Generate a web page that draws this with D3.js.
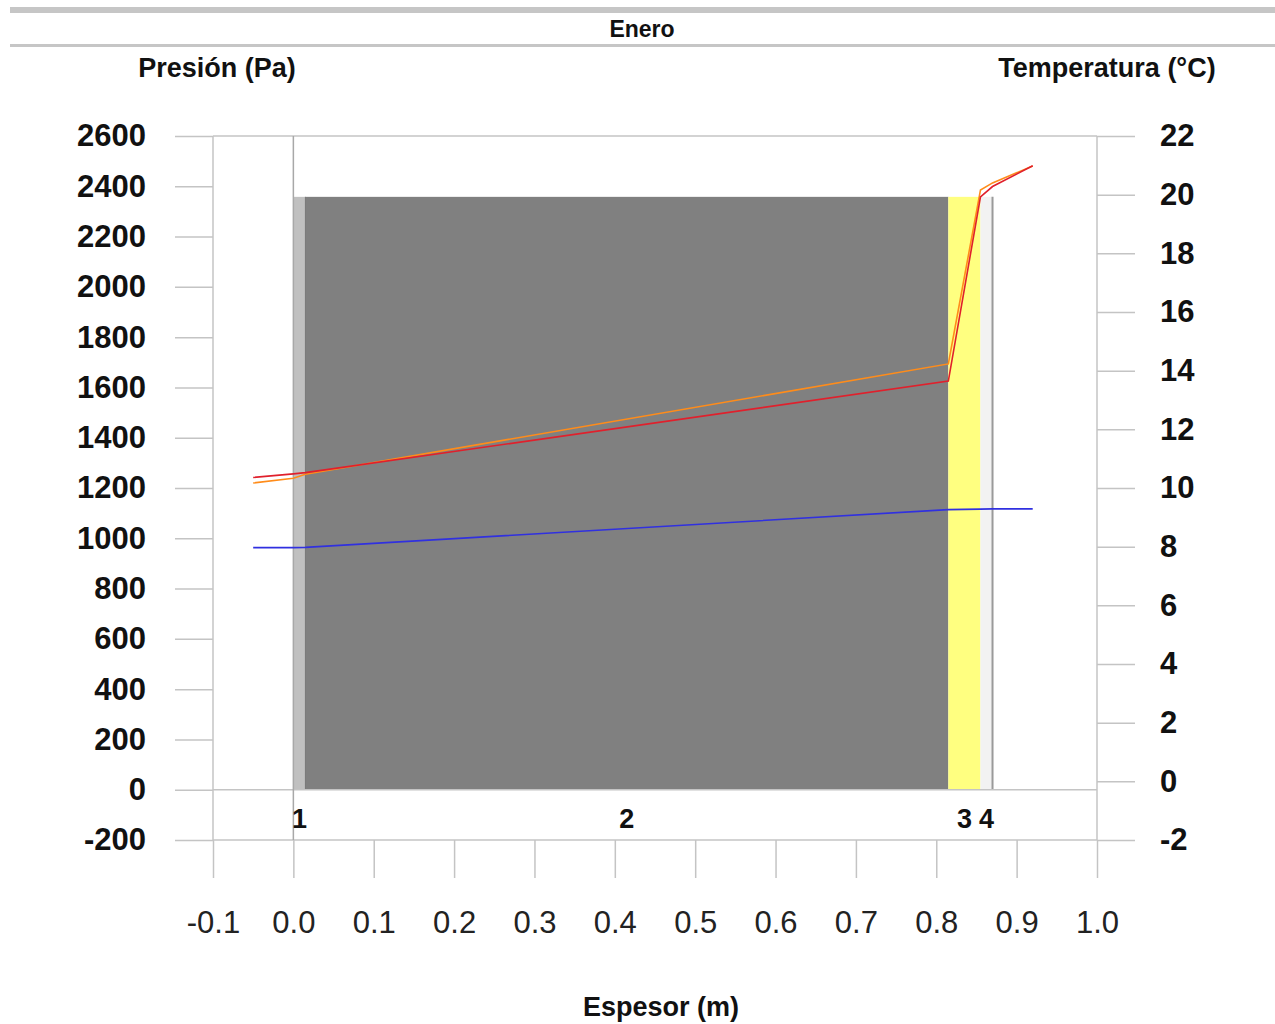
<!DOCTYPE html>
<html>
<head>
<meta charset="utf-8">
<script src="https://cdn.jsdelivr.net/npm/d3@7"></script>
<style>
  html, body { margin: 0; padding: 0; background: #fff; }
  svg { display: block; font-family: "Liberation Sans", Arial, sans-serif; }
</style>
</head>
<body>
<svg id="chart" width="1275" height="1024"></svg>
<script>
// ---------------- data ----------------
const title = "Enero";
const leftAxisTitle = "Presión (Pa)";
const rightAxisTitle = "Temperatura (°C)";
const xAxisTitle = "Espesor (m)";

const pressureTicks = [-200, 0, 200, 400, 600, 800, 1000, 1200, 1400, 1600, 1800, 2000, 2200, 2400, 2600];
const tempTicks = [-2, 0, 2, 4, 6, 8, 10, 12, 14, 16, 18, 20, 22];
const xTicks = [-0.1, 0.0, 0.1, 0.2, 0.3, 0.4, 0.5, 0.6, 0.7, 0.8, 0.9, 1.0];

const layerNames = ["1", "2", "3", "4"];
const layerStart = [0.0, 0.015, 0.815, 0.855];
const layerEnd   = [0.015, 0.815, 0.855, 0.87];
const layerTopPa = 2358;

const positions = [-0.05, 0.0, 0.015, 0.815, 0.855, 0.87, 0.92];
const temperature = [10.17, 10.33, 10.47, 14.23, 20.16, 20.40, 20.98];      // °C (right axis)
const saturationPressure = [1242, 1256, 1261, 1625, 2358, 2399, 2482];     // Pa (left axis)
const vaporPressure = [963, 963, 964, 1114, 1116, 1117, 1117];             // Pa (left axis)

// ---------------- styles ----------------
const layerFill = ["#c0c0c0", "#808080", "#ffff80", "#f2f2f2"];
const gridColor = "#c4c4c4";
const colTemp = "#ff8c1a";
const colSat = "#e0202c";
const colVap = "#3030e0";

// ---------------- layout ----------------
const svg = d3.select("#chart");
const X0 = 213, X1 = 1097, Y0 = 136, Y1 = 840;
const TICK = 38;

const x = d3.scaleLinear().domain([-0.1, 1.0]).range([X0, X1]);
const yP = d3.scaleLinear().domain([-200, 2600]).range([Y1, Y0]);
const yT = d3.scaleLinear().domain([-2, 22]).range([Y1, Y0]);

const hyphen = f => v => f(v).replace("\u2212", "-");

// header
svg.append("rect").attr("x", 10).attr("y", 7).attr("width", 1265).attr("height", 6).attr("fill", "#c6c6c6");
svg.append("rect").attr("x", 10).attr("y", 44).attr("width", 1265).attr("height", 3).attr("fill", "#c6c6c6");
svg.append("text").attr("x", 642).attr("y", 37).attr("text-anchor", "middle")
  .attr("font-size", 23).attr("font-weight", "bold").attr("fill", "#111").text(title);

// axis titles
svg.append("text").attr("x", 217).attr("y", 77).attr("text-anchor", "middle")
  .attr("font-size", 27).attr("font-weight", "bold").attr("fill", "#111").text(leftAxisTitle);
svg.append("text").attr("x", 1107).attr("y", 77).attr("text-anchor", "middle")
  .attr("font-size", 27).attr("font-weight", "bold").attr("fill", "#111").text(rightAxisTitle);
svg.append("text").attr("x", 661).attr("y", 1016).attr("text-anchor", "middle")
  .attr("font-size", 27).attr("font-weight", "bold").attr("fill", "#111").text(xAxisTitle);

// layers
const layers = layerNames.map((n, i) => ({ name: n, s: layerStart[i], e: layerEnd[i], fill: layerFill[i] }));
svg.append("g").selectAll("rect").data(layers).join("rect")
  .attr("x", d => x(d.s)).attr("width", d => x(d.e) - x(d.s))
  .attr("y", yP(layerTopPa)).attr("height", yP(0) - yP(layerTopPa))
  .attr("fill", d => d.fill);
// right edge of wall
svg.append("line")
  .attr("x1", x(layerEnd[3])).attr("x2", x(layerEnd[3]))
  .attr("y1", yP(layerTopPa)).attr("y2", yP(0))
  .attr("stroke", "#9a9a9a").attr("stroke-width", 2);
// boundary of layer 1 / 2
svg.append("line")
  .attr("x1", x(layerEnd[0])).attr("x2", x(layerEnd[0]))
  .attr("y1", yP(layerTopPa)).attr("y2", yP(0))
  .attr("stroke", "#777").attr("stroke-width", 1);

// frame & grid lines
const grid = svg.append("g").attr("stroke", gridColor).attr("stroke-width", 1.5).attr("fill", "none");
grid.append("line").attr("x1", X0).attr("x2", X1).attr("y1", yP(2600)).attr("y2", yP(2600));
grid.append("line").attr("x1", X0).attr("x2", X1).attr("y1", yP(-200)).attr("y2", yP(-200));
grid.append("line").attr("x1", X0).attr("x2", X1).attr("y1", yP(0)).attr("y2", yP(0));
grid.append("line").attr("x1", x(-0.1)).attr("x2", x(-0.1)).attr("y1", Y0).attr("y2", Y1);
grid.append("line").attr("x1", x(0)).attr("x2", x(0)).attr("y1", Y0).attr("y2", Y1).attr("stroke", "#a8a8a8");
grid.append("line").attr("x1", x(1.0)).attr("x2", x(1.0)).attr("y1", Y0).attr("y2", Y1);

// axes
function styleAxis(g) {
  g.select(".domain").remove();
  g.selectAll(".tick line").attr("stroke", gridColor).attr("stroke-width", 1.5);
  g.selectAll(".tick text").attr("fill", "#111");
}
svg.append("g").attr("transform", `translate(${X0},0)`)
  .call(d3.axisLeft(yP).tickValues(pressureTicks).tickSize(TICK).tickPadding(29).tickFormat(hyphen(d3.format("d"))))
  .call(styleAxis)
  .call(g => g.selectAll(".tick text").attr("font-size", 31).attr("font-weight", "bold")
    .attr("font-family", "'Liberation Sans', Arial, sans-serif"));

svg.append("g").attr("transform", `translate(${X1},0)`)
  .call(d3.axisRight(yT).tickValues(tempTicks).tickSize(TICK).tickPadding(25).tickFormat(hyphen(d3.format("d"))))
  .call(styleAxis)
  .call(g => g.selectAll(".tick text").attr("font-size", 31).attr("font-weight", "bold")
    .attr("font-family", "'Liberation Sans', Arial, sans-serif"));

svg.append("g").attr("transform", `translate(0,${Y1})`)
  .call(d3.axisBottom(x).tickValues(xTicks).tickSize(TICK).tickPadding(33).tickFormat(hyphen(d3.format(".1f"))))
  .call(styleAxis)
  .call(g => g.selectAll(".tick text").attr("font-size", 31).attr("font-weight", "normal")
    .attr("font-family", "'Liberation Sans', Arial, sans-serif").attr("fill", "#222"));

// layer labels
svg.append("g").selectAll("text").data(layers).join("text")
  .attr("x", d => x((d.s + d.e) / 2)).attr("y", 828)
  .attr("text-anchor", "middle").attr("font-size", 27).attr("font-weight", "bold").attr("fill", "#111")
  .text(d => d.name);

// lines
const pts = positions.map((p, i) => ({ p, t: temperature[i], s: saturationPressure[i], v: vaporPressure[i] }));
svg.append("path").datum(pts)
  .attr("d", d3.line().x(d => x(d.p)).y(d => yP(d.v)))
  .attr("fill", "none").attr("stroke", colVap).attr("stroke-width", 1.6);
svg.append("path").datum(pts)
  .attr("d", d3.line().x(d => x(d.p)).y(d => yT(d.t)))
  .attr("fill", "none").attr("stroke", colTemp).attr("stroke-width", 1.6);
svg.append("path").datum(pts)
  .attr("d", d3.line().x(d => x(d.p)).y(d => yP(d.s)))
  .attr("fill", "none").attr("stroke", colSat).attr("stroke-width", 1.6);
</script>
</body>
</html>
